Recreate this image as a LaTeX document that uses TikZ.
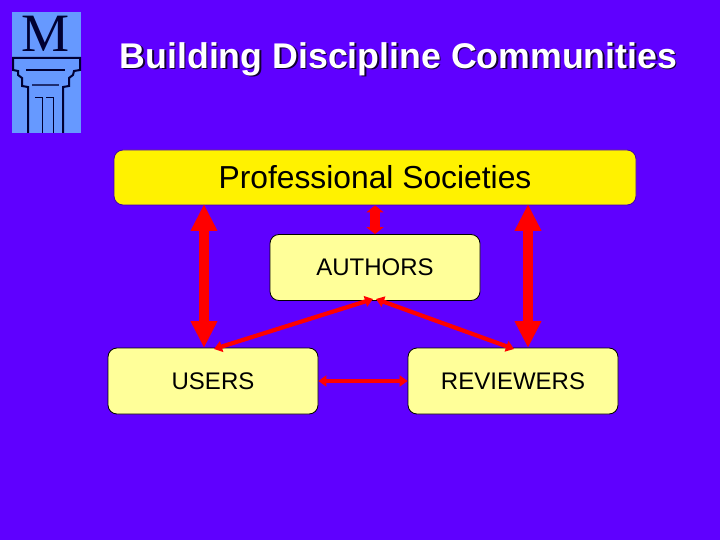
\documentclass[tikz,border=0pt]{standalone}
\usepackage{fontspec}
\setmainfont{Liberation Sans}
\newfontfamily\logofont{Liberation Serif}
\usetikzlibrary{arrows.meta}
\definecolor{bgblue}{HTML}{5F00FF}
\definecolor{logoblue}{HTML}{6699FF}
\definecolor{logoink}{HTML}{000033}
\definecolor{paleyellow}{HTML}{FFFF99}
\tikzset{
  x=1pt,y=-1pt,
  box/.style={draw=black,line width=0.8pt,fill=paleyellow,rounded corners=9pt,minimum width=210pt,minimum height=66pt,inner sep=0pt,text=black,font=\fontsize{24}{28}\selectfont},
  bigbox/.style={box,draw=bgblue!70!black,fill=yellow,minimum width=522pt,minimum height=55pt,font=\fontsize{31.8}{36}\selectfont},
  bigarrow/.style={draw=red,line width=9.5pt,{Triangle[length=27pt,width=25pt]}-{Triangle[length=27pt,width=25pt]}},
  midarrow/.style={draw=red,line width=9.5pt,{Triangle[length=7pt,width=17pt]}-{Triangle[length=7pt,width=17pt]}},
  thinarrow/.style={draw=red,line width=4.2pt,{Triangle[length=8pt,width=11pt]}-{Triangle[length=8pt,width=11pt]}},
  column/.style={draw=logoink,line width=1.5pt,line join=miter},
  titletext/.style={font=\fontsize{35.7}{40}\selectfont\bfseries}
}
\begin{document}
\begin{tikzpicture}
\useasboundingbox (0,0) rectangle (720,540);
\fill[bgblue] (0,0) rectangle (720,540);
% logo
\fill[logoblue] (12,12) rectangle (81,133);
\node[font=\logofont\fontsize{54}{54}\selectfont,text=logoink,inner sep=0pt] (logoM) at (45.5,34) {M};
\draw[column,line width=2pt] (28,133) -- (28,87) -- (22,86) -- (22,78) -- (18,75) -- (18,71) -- (13,70) -- (13,58) -- (80,58) -- (80,70) -- (74,71) -- (73,75) -- (69,78) -- (69,86) -- (63,87) -- (63,133);
\draw[column] (26,70) -- (65,70);
\draw[draw=logoink!70!logoblue,line width=1.2pt] (32,85) -- (59,85);
\draw[column,line width=1pt] (35,98) -- (42,98) -- (42,133);
\draw[column,line width=1pt] (46,98) -- (53,98) -- (53,133);
% title
\node[titletext,text=black!80!bgblue,inner sep=0pt] (titleshadow) at (400,60.5) {Building Discipline Communities};
\node[titletext,text=white,inner sep=0pt] (title) at (398.5,59) {Building Discipline Communities};
% boxes
\node[bigbox] (prof) at (375,177.5) {\raisebox{-1pt}{Professional Societies}};
\node[box] (authors) at (375,267.5) {AUTHORS};
\node[box] (users) at (213,381) {USERS};
\node[box] (reviewers) at (513,381) {REVIEWERS};
% connector ends
\coordinate (pl) at (204,204);
\coordinate (ul) at (204,348);
\coordinate (pr) at (528,204);
\coordinate (rr) at (528,348);
\coordinate (al) at (373,299);
\coordinate (ar) at (376,299);
\coordinate (ut) at (214,349);
\coordinate (rt) at (514,349);
% connectors
\draw[bigarrow] (pl) -- (ul);
\draw[bigarrow] (pr) -- (rr);
\draw[midarrow] (prof.south) -- (authors.north);
\draw[thinarrow] (al) -- (ut);
\draw[thinarrow] (ar) -- (rt);
\draw[thinarrow] (users.east) -- (reviewers.west);
\end{tikzpicture}
\end{document}
